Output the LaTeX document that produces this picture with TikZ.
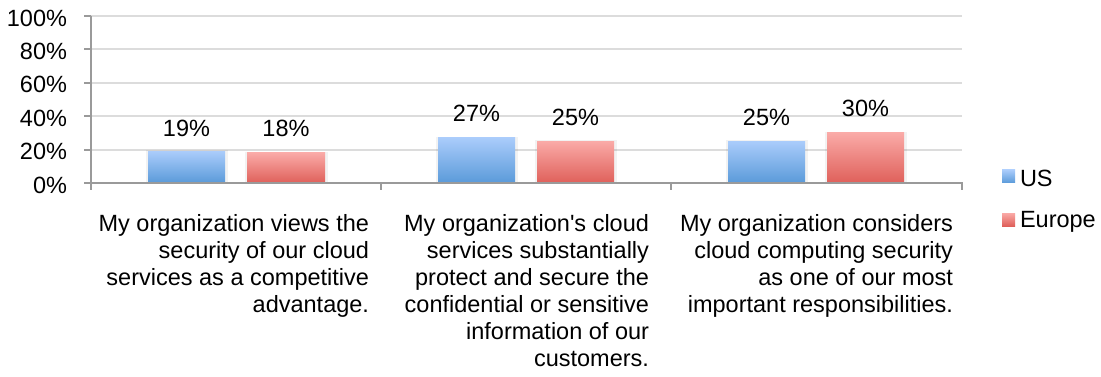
\documentclass[tikz,border=0pt]{standalone}
\usepackage{fontspec}
\newfontfamily\arialfont{Liberation Sans}
\begin{document}
\begin{tikzpicture}[x=1pt,y=-1pt,
  every node/.style={inner sep=0pt,outer sep=0pt,font=\arialfont\fontsize{23.5}{27}\selectfont},
  grid/.style={draw=gridgray,line width=2pt},
  axisline/.style={draw=axisgray,line width=2pt},
  usbar/.style={top color=ustop,bottom color=usbot,draw=none},
  eubar/.style={top color=eutop,bottom color=eubot,draw=none},
  shadowbar/.style={fill=black,opacity=0.05,draw=none},
  catlabel/.style={align=right,anchor=north east},
  ylab/.style={anchor=east},
  vlab/.style={anchor=center},
]
\definecolor{gridgray}{HTML}{DCDCDC}
\definecolor{axisgray}{HTML}{9A9A9A}
\definecolor{ustop}{HTML}{AACCFB}
\definecolor{usbot}{HTML}{5A9AD9}
\definecolor{eutop}{HTML}{FAAAA7}
\definecolor{eubot}{HTML}{DF605A}
\useasboundingbox[fill=white] (0,0) rectangle (1101,377);

% gridlines
\foreach \p/\yy in {20/149.6,40/116.2,60/82.8,80/49.4,100/16}{
  \draw[grid] (91,\yy) -- (962,\yy);
  \draw[axisline] (84,\yy) -- (91,\yy);
}
\draw[axisline] (84,183) -- (91,183);

% y labels
\node[ylab] (y0) at (67,185) {0\%};
\node[ylab] (y20) at (67,151.6) {20\%};
\node[ylab] (y40) at (67,118.2) {40\%};
\node[ylab] (y60) at (67,84.8) {60\%};
\node[ylab] (y80) at (67,51.4) {80\%};
\node[ylab] (y100) at (67,18) {100\%};

% bar shadows
\foreach \xa/\xb/\top in {148/225/151.3,247/325/152.9,438/515/137.9,537/614/141.2,728/805/141.2,827/904/132.9}{
  \fill[shadowbar] (\xa-2,\top-1) rectangle (\xb+3,183);
}
% bars
\fill[usbar] (148,151.3) rectangle (225,183);
\fill[eubar] (247,152.9) rectangle (325,183);
\fill[usbar] (438,137.9) rectangle (515,183);
\fill[eubar] (537,141.2) rectangle (614,183);
\fill[usbar] (728,141.2) rectangle (805,183);
\fill[eubar] (827,132.9) rectangle (904,183);

% axes
\draw[axisline] (91,16) -- (91,190);
\draw[axisline] (90,183) -- (963,183);
\draw[axisline] (381,183) -- (381,190);
\draw[axisline] (671,183) -- (671,190);
\draw[axisline] (962,183) -- (962,190);

% value labels
\node[vlab] (v1) at (186.5,128) {19\%};
\node[vlab] (v2) at (286,128) {18\%};
\node[vlab] (v3) at (476.5,113) {27\%};
\node[vlab] (v4) at (575.5,117) {25\%};
\node[vlab] (v5) at (766.5,117) {25\%};
\node[vlab] (v6) at (865.5,108) {30\%};

% category labels
\node[catlabel] (c1) at (369,214) {My organization views the\\security of our cloud\\services as a competitive\\advantage.};
\node[catlabel] (c2) at (649,214) {My organization's cloud\\services substantially\\protect and secure the\\confidential or sensitive\\information of our\\customers.};
\node[catlabel] (c3) at (953,214) {My organization considers\\cloud computing security\\as one of our most\\important responsibilities.};

% legend
\fill[usbar] (1002,170) rectangle (1015,183);
\node[anchor=west] (lus) at (1020,178) {US};
\fill[eubar] (1002,213) rectangle (1015,226);
\node[anchor=west] (leu) at (1020,221.5) {Europe};
\end{tikzpicture}
\end{document}
